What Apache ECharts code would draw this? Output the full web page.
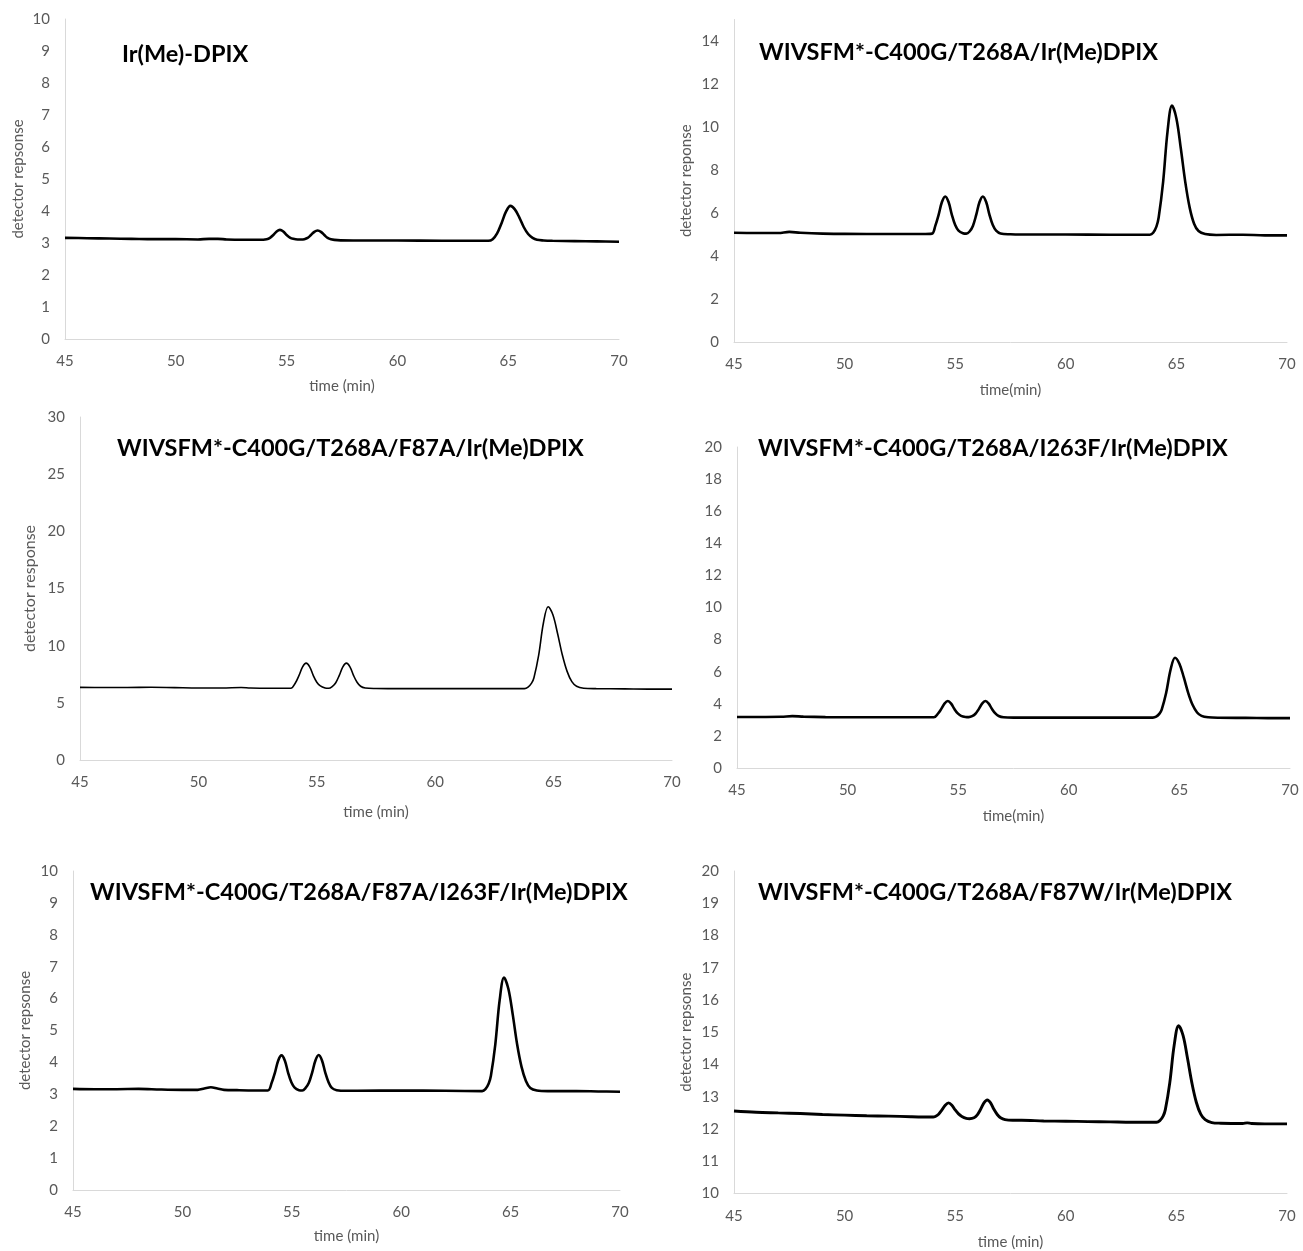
<!DOCTYPE html>
<html>
<head>
<meta charset="utf-8">
<script src="https://cdn.jsdelivr.net/npm/echarts@6/dist/echarts.min.js"></script>
<style>
  html, body { margin: 0; padding: 0; background: #ffffff; }
  #chart { width: 1303px; height: 1251px; }
</style>
</head>
<body>
<div id="chart"></div>
<script>
// Panel titles (variant / cofactor)
const panelTitles = [
  'Ir(Me)-DPIX',
  'WIVSFM*-C400G/T268A/Ir(Me)DPIX',
  'WIVSFM*-C400G/T268A/F87A/Ir(Me)DPIX',
  'WIVSFM*-C400G/T268A/I263F/Ir(Me)DPIX',
  'WIVSFM*-C400G/T268A/F87A/I263F/Ir(Me)DPIX',
  'WIVSFM*-C400G/T268A/F87W/Ir(Me)DPIX'
];
const yAxisTitles = ['detector repsonse', 'detector reponse', 'detector response', '', 'detector repsonse', 'detector repsonse'];
const xAxisTitles = ['time (min)', 'time(min)', 'time (min)', 'time(min)', 'time (min)', 'time (min)'];

// x range (min) shared by every panel
const timeRange = [45, 70, 5];
// y ranges: [min, max, major step]
const yRanges = [[0, 10, 1], [0, 15, 2], [0, 30, 5], [0, 20, 2], [0, 10, 1], [10, 20, 1]];

// Chromatogram traces: [time (min), detector response]
const traceIrMeDPIX = [
  [45, 3.16], [46, 3.15], [47, 3.14], [48, 3.13], [49, 3.12], [50, 3.12], [51, 3.11], [51.5, 3.13], [51.9, 3.13], [52.3, 3.11],
  [53, 3.10], [53.8, 3.10], [54.1, 3.12], [54.25, 3.16], [54.4, 3.25], [54.55, 3.36], [54.7, 3.41], [54.85, 3.36], [55.0, 3.25],
  [55.15, 3.17], [55.3, 3.13], [55.5, 3.11], [55.65, 3.11], [55.8, 3.12], [55.95, 3.16], [56.1, 3.25], [56.25, 3.35], [56.4, 3.39],
  [56.55, 3.35], [56.7, 3.25], [56.85, 3.16], [57.0, 3.12], [57.3, 3.09], [58, 3.08], [60, 3.08], [62, 3.07], [64.1, 3.07],
  [64.3, 3.12], [64.5, 3.30], [64.7, 3.62], [64.9, 3.98], [65.1, 4.16], [65.3, 4.05], [65.5, 3.80], [65.7, 3.50], [65.9, 3.28],
  [66.1, 3.16], [66.3, 3.10], [66.6, 3.08], [67, 3.07], [68, 3.06], [69, 3.05], [70, 3.04]
];
const traceC400GT268A = [
  [45, 5.08], [46, 5.07], [47, 5.07], [47.5, 5.12], [48, 5.08], [49, 5.04], [50, 5.03], [52, 5.02], [53.5, 5.02], [53.95, 5.04],
  [54.1, 5.40], [54.25, 5.91], [54.4, 6.51], [54.55, 6.77], [54.7, 6.51], [54.85, 5.91], [55.0, 5.44], [55.15, 5.18], [55.35, 5.06],
  [55.5, 5.04], [55.65, 5.14], [55.8, 5.40], [55.95, 5.91], [56.1, 6.51], [56.25, 6.77], [56.4, 6.51], [56.55, 5.91], [56.7, 5.44],
  [56.85, 5.18], [57.05, 5.05], [57.5, 5.01], [58, 5.00], [60, 5.00], [62, 4.99], [63.8, 4.99], [63.95, 5.08], [64.1, 5.38],
  [64.2, 5.80], [64.4, 7.45], [64.6, 9.80], [64.8, 11.00], [65.0, 10.40], [65.2, 9.00], [65.4, 7.45], [65.6, 6.25], [65.8, 5.50],
  [66.0, 5.16], [66.3, 5.02], [66.8, 4.98], [68, 4.99], [69, 4.96], [70, 4.96]
];
const traceF87A = [
  [45, 6.35], [46, 6.34], [47, 6.34], [48, 6.36], [49, 6.33], [50, 6.30], [51, 6.30], [51.8, 6.34], [52.2, 6.30], [53, 6.28],
  [53.9, 6.28], [54.1, 6.76], [54.25, 7.40], [54.4, 8.15], [54.55, 8.47], [54.7, 8.15], [54.85, 7.40], [55.0, 6.80], [55.15, 6.48],
  [55.35, 6.30], [55.5, 6.27], [55.65, 6.42], [55.8, 6.76], [55.95, 7.40], [56.1, 8.15], [56.25, 8.47], [56.4, 8.15], [56.55, 7.40],
  [56.7, 6.80], [56.85, 6.45], [57.05, 6.30], [57.5, 6.25], [58, 6.24], [60, 6.25], [62, 6.24], [63.77, 6.24], [63.92, 6.37],
  [64.07, 6.72], [64.17, 7.20], [64.37, 9.18], [64.57, 11.98], [64.77, 13.41], [64.97, 12.70], [65.17, 11.04], [65.37, 9.18],
  [65.57, 7.75], [65.77, 6.85], [65.97, 6.45], [66.27, 6.28], [66.8, 6.24], [68, 6.22], [69, 6.20], [70, 6.20]
];
const traceI263F = [
  [45, 3.18], [46, 3.18], [47, 3.19], [47.5, 3.23], [48, 3.20], [49, 3.17], [50, 3.16], [52, 3.16], [53.9, 3.16], [54.08, 3.38],
  [54.23, 3.67], [54.38, 4.01], [54.53, 4.17], [54.68, 4.01], [54.83, 3.67], [54.98, 3.40], [55.13, 3.25], [55.33, 3.18],
  [55.48, 3.17], [55.63, 3.23], [55.78, 3.38], [55.93, 3.67], [56.08, 4.01], [56.23, 4.17], [56.38, 4.01], [56.53, 3.67],
  [56.68, 3.40], [56.83, 3.24], [57.05, 3.16], [57.5, 3.14], [58, 3.14], [60, 3.14], [62, 3.14], [63.8, 3.14], [63.95, 3.20],
  [64.1, 3.39], [64.2, 3.64], [64.4, 4.67], [64.6, 6.12], [64.8, 6.87], [65.0, 6.50], [65.2, 5.64], [65.4, 4.67], [65.6, 3.92],
  [65.8, 3.46], [66.0, 3.25], [66.3, 3.16], [66.8, 3.13], [68, 3.12], [69, 3.11], [70, 3.11]
];
const traceF87AI263F = [
  [45, 3.17], [46, 3.16], [47, 3.16], [48, 3.17], [49, 3.15], [50, 3.14], [50.7, 3.14], [51.0, 3.18], [51.3, 3.22], [51.6, 3.18],
  [51.9, 3.14], [52.5, 3.13], [53.9, 3.12], [54.08, 3.36], [54.23, 3.68], [54.38, 4.06], [54.53, 4.22], [54.68, 4.06], [54.83, 3.68],
  [54.98, 3.38], [55.13, 3.21], [55.33, 3.13], [55.48, 3.12], [55.63, 3.20], [55.78, 3.36], [55.93, 3.68], [56.08, 4.06],
  [56.23, 4.23], [56.38, 4.06], [56.53, 3.68], [56.68, 3.38], [56.83, 3.20], [57.05, 3.13], [57.5, 3.11], [58, 3.11], [60, 3.12],
  [62, 3.11], [63.7, 3.10], [63.85, 3.16], [64.0, 3.34], [64.1, 3.58], [64.3, 4.56], [64.5, 5.95], [64.7, 6.66], [64.9, 6.30],
  [65.1, 5.49], [65.3, 4.56], [65.5, 3.86], [65.7, 3.42], [65.9, 3.20], [66.2, 3.12], [66.7, 3.10], [68, 3.10], [69, 3.09], [70, 3.08]
];
const traceF87W = [
  [45, 12.56], [46, 12.52], [47, 12.50], [48, 12.48], [49, 12.45], [50, 12.43], [51, 12.41], [52, 12.40], [53, 12.38], [54, 12.37],
  [54.1, 12.39], [54.25, 12.46], [54.4, 12.59], [54.55, 12.74], [54.7, 12.81], [54.85, 12.74], [55.0, 12.59], [55.15, 12.47],
  [55.3, 12.39], [55.5, 12.33], [55.65, 12.32], [55.85, 12.35], [56.0, 12.44], [56.15, 12.61], [56.3, 12.81], [56.45, 12.90],
  [56.6, 12.81], [56.75, 12.61], [56.9, 12.45], [57.05, 12.35], [57.25, 12.29], [57.6, 12.27], [58, 12.27], [59, 12.25], [60, 12.24],
  [61, 12.23], [62, 12.22], [63, 12.21], [64.1, 12.21], [64.25, 12.26], [64.4, 12.40], [64.5, 12.60], [64.7, 13.43], [64.9, 14.60],
  [65.1, 15.20], [65.3, 14.90], [65.5, 14.20], [65.7, 13.43], [65.9, 12.83], [66.1, 12.46], [66.3, 12.29], [66.6, 12.20], [67, 12.18],
  [68, 12.17], [68.2, 12.19], [68.4, 12.17], [69, 12.16], [70, 12.16]
];
const traces = [traceIrMeDPIX, traceC400GT268A, traceF87A, traceI263F, traceF87AI263F, traceF87W];

// Plot rectangles of the six panels
const boxes = [
  { left: 65,  top: 19,    width: 554, height: 320 },
  { left: 734, top: 19.5,  width: 553, height: 322.5 },
  { left: 80,  top: 417,   width: 592, height: 343 },
  { left: 737, top: 447,   width: 553, height: 321 },
  { left: 73,  top: 871,   width: 547, height: 319 },
  { left: 734, top: 871,   width: 553, height: 323 }
];
// Title anchor points (left, vertical centre)
const titleAt = [[122, 54], [759, 52], [117, 448], [758, 448], [90, 892], [758, 892]];
const xNameGaps = [39.5, 40.5, 44.5, 40.5, 38.5, 41.5];
const yNameGaps = [39.5, 40, 42, 40, 40, 40];
const yNameSizes = [15, 15, 16, 15, 15, 15];
const lineWidths = [2.6, 2.6, 1.6, 2.6, 2.6, 2.9];

const FONT = 'Lato, "Open Sans", sans-serif';
const GREY = '#595959';

const grids = [], xAxes = [], yAxes = [], series = [], titles = [];
boxes.forEach((b, i) => {
  grids.push({ left: b.left, top: b.top, width: b.width, height: b.height, containLabel: false });
  xAxes.push({
    type: 'value', gridIndex: i, min: timeRange[0], max: timeRange[1], interval: timeRange[2],
    axisLine: { show: true, lineStyle: { color: '#d9d9d9', width: 1 } },
    axisTick: { show: false }, splitLine: { show: false },
    axisLabel: { color: GREY, fontFamily: FONT, fontSize: 15, margin: 15 },
    name: xAxisTitles[i], nameLocation: 'middle', nameGap: xNameGaps[i],
    nameTextStyle: { color: GREY, fontFamily: FONT, fontSize: 15 }
  });
  const r = yRanges[i];
  yAxes.push({
    type: 'value', gridIndex: i, min: r[0], max: r[1], interval: r[2],
    axisLine: { show: true, lineStyle: { color: '#d9d9d9', width: 1 } },
    axisTick: { show: false }, splitLine: { show: false },
    axisLabel: { color: GREY, fontFamily: FONT, fontSize: 15, margin: 15, showMaxLabel: (r[1] - r[0]) % r[2] === 0 },
    name: yAxisTitles[i], nameLocation: 'middle', nameGap: yNameGaps[i],
    nameTextStyle: { color: GREY, fontFamily: FONT, fontSize: yNameSizes[i] }
  });
  series.push({
    type: 'line', xAxisIndex: i, yAxisIndex: i, data: traces[i],
    smooth: 0.35, showSymbol: false, silent: true,
    lineStyle: { color: '#000000', width: lineWidths[i] }
  });
  titles.push({
    text: panelTitles[i], left: titleAt[i][0], top: titleAt[i][1] - 12, padding: 0,
    textStyle: { color: '#000000', fontFamily: FONT, fontWeight: 'bold', fontSize: 23.5 }
  });
});

const chart = echarts.init(document.getElementById('chart'), null, { renderer: 'canvas' });
chart.setOption({
  backgroundColor: '#ffffff',
  animation: false,
  title: titles,
  grid: grids,
  xAxis: xAxes,
  yAxis: yAxes,
  series: series
});
</script>
</body>
</html>
